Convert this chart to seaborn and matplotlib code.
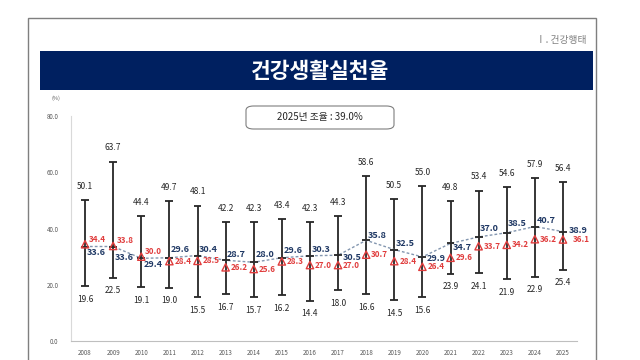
import matplotlib
matplotlib.use("Agg")
import matplotlib.pyplot as plt
import seaborn as sns
import pandas as pd
import numpy as np
from matplotlib.patches import Rectangle, FancyBboxPatch

sns.set_style("white")
plt.rcParams['font.family'] = ['Noto Sans CJK KR', 'DejaVu Sans']

years = [str(y) for y in range(2008, 2026)]
max_vals = [50.1, 63.7, 44.4, 49.7, 48.1, 42.2, 42.3, 43.4, 42.3, 44.3, 58.6, 50.5, 55.0, 49.8, 53.4, 54.6, 57.9, 56.4]
min_vals = [19.6, 22.5, 19.1, 19.0, 15.5, 16.7, 15.7, 16.2, 14.4, 18.0, 16.6, 14.5, 15.6, 23.9, 24.1, 21.9, 22.9, 25.4]
median_vals = [33.6, 33.6, 29.4, 29.6, 30.4, 28.7, 28.0, 29.6, 30.3, 30.5, 35.8, 32.5, 29.9, 34.7, 37.0, 38.5, 40.7, 38.9]
red_vals = [34.4, 33.8, 30.0, 28.4, 28.5, 26.2, 25.6, 28.3, 27.0, 27.0, 30.7, 28.4, 26.4, 29.6, 33.7, 34.2, 36.2, 36.1]
y_ticks = [0.0, 20.0, 40.0, 60.0, 80.0]

# label placement (pixels) for the median and red labels
blue_dx = [2, 2, 2, 1.5, 1.5, 1.5, 1.5, 1.5, 1.5, 4.5, 1.5, 1.5, 4, 2, 1.5, 1.5, 1.5, 6]
blue_dy = [-6, -11, -6, 8, 5.5, 6, 8, 7, 6, -2, 5, 6.5, -2, -4, 8, 9.5, 6, 1.5]
red_dx = [4, 4, 4, 5, 5, 5, 5, 5, 5, 5, 5, 5, 5, 5, 5, 5, 5, 10]
red_dy = [5, 5, 5, 0, 0, 0, 0, 0, 0, 0, 0, 0, 0, 0, 0, 0, 0, 0]

df = pd.DataFrame({"year": years, "pos": np.arange(len(years)), "max": max_vals,
                   "min": min_vals, "median": median_vals, "red": red_vals})

W, H = 640, 360
fig = plt.figure(figsize=(6.4, 3.6), dpi=100)
fig.patch.set_facecolor("white")

# outer frame
fig.patches.append(Rectangle((28 / W, -0.1), (596 - 28) / W, (360 - 18) / H + 0.1,
                             transform=fig.transFigure, fill=False, edgecolor="#7F7F7F", lw=1.0))
# section label
fig.text(586 / W, 1 - 40 / H, "Ⅰ. 건강행태", ha="right", va="center", fontsize=7, color="#808080")
# title bar
fig.patches.append(Rectangle((40 / W, 1 - 90 / H), (593 - 40) / W, 39 / H,
                             transform=fig.transFigure, facecolor="#002060", edgecolor="none"))
fig.text(320 / W, 1 - 71 / H, "건강생활실천율", ha="center", va="center", fontsize=15.5,
         color="white", fontweight="bold")

ax = fig.add_axes([71 / W, 19 / H, (577 - 71) / W, 225 / H])
ax.set_xlim(-0.5, len(years) - 0.5)
ax.set_ylim(0, 80)

# whiskers
ax.vlines(df["pos"], df["min"], df["max"], color="#262626", lw=1.3, zorder=2)
ax.hlines(df["max"], df["pos"] - 0.14, df["pos"] + 0.14, color="#262626", lw=1.3, zorder=2)
ax.hlines(df["min"], df["pos"] - 0.14, df["pos"] + 0.14, color="#262626", lw=1.3, zorder=2)
ax.hlines(df["median"], df["pos"] - 0.14, df["pos"] + 0.14, color="#262626", lw=1.3, zorder=3)

sns.lineplot(data=df, x="pos", y="median", ax=ax, color="#8497B0", lw=1.0,
             linestyle=(0, (2, 1.5)), zorder=2.5)
sns.scatterplot(data=df, x="pos", y="red", ax=ax, marker="^", s=28, facecolor="none",
                edgecolor="#E03C3C", linewidth=1.0, zorder=4)

px = 72 / 100.0  # points per pixel
for i, r in df.iterrows():
    x = r["pos"]
    ax.annotate(f"{r['max']:.1f}", (x, r["max"]), xytext=(0, 10), textcoords="offset points",
                ha="center", va="center", fontsize=6, color="#262626")
    ax.annotate(f"{r['min']:.1f}", (x, r["min"]), xytext=(0, -9.5), textcoords="offset points",
                ha="center", va="center", fontsize=6, color="#262626")
    ax.annotate(f"{r['median']:.1f}", (x, r["median"]),
                xytext=(blue_dx[i] * px, blue_dy[i] * px), textcoords="offset points",
                ha="left", va="center", fontsize=6.5, color="#1F3864", fontweight="bold")
    ax.annotate(f"{r['red']:.1f}", (x, r["red"]), xytext=(red_dx[i] * px, red_dy[i] * px),
                textcoords="offset points",
                ha="left", va="center", fontsize=5.8, color="#E03C3C", fontweight="bold")

ax.set_xticks(df["pos"])
ax.set_xticklabels(years, fontsize=4.5, color="#595959")
ax.set_xticks(np.arange(-0.5, len(years)), minor=True)
ax.tick_params(axis="x", which="major", length=0, pad=6)
ax.tick_params(axis="x", which="minor", length=2.5, color="#BFBFBF", width=0.6)
ax.set_yticks(y_ticks)
ax.set_yticklabels([f"{v:.1f}" for v in y_ticks], fontsize=4.5, color="#595959")
ax.tick_params(axis="y", length=2, color="#BFBFBF", width=0.6, pad=7)
ax.set_xlabel("")
ax.set_ylabel("")
for s in ["top", "right"]:
    ax.spines[s].set_visible(False)
ax.spines["left"].set_color("#D9D9D9")
ax.spines["bottom"].set_color("#BFBFBF")
ax.spines["left"].set_linewidth(0.8)
ax.spines["bottom"].set_linewidth(0.8)
ax.patch.set_alpha(0)

fig.text(56 / W, 1 - 98 / H, "(%)", ha="center", va="center", fontsize=4, color="#595959")

# info box
fig.patches.append(FancyBboxPatch((246 / W, 1 - 129 / H), 148 / W, 23 / H,
                                  boxstyle="round,pad=0,rounding_size=0.012",
                                  transform=fig.transFigure, facecolor="white",
                                  edgecolor="#7F7F7F", lw=0.8))
fig.text(320 / W, 1 - 117.5 / H, "2025년 조율 : 39.0%", ha="center", va="center",
         fontsize=7, color="#262626")

fig.savefig("out.png", dpi=100)
